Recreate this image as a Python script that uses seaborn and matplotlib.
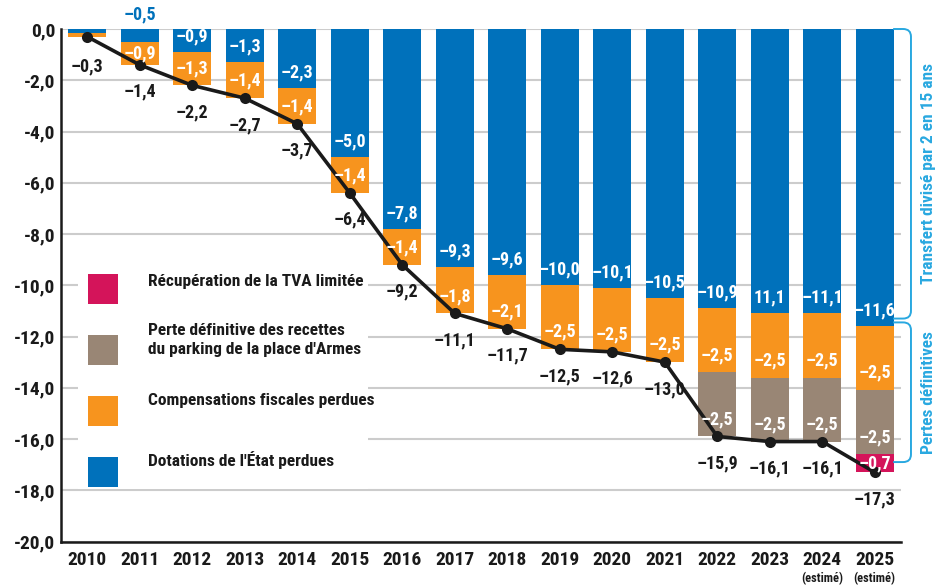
import numpy as np
import pandas as pd
import matplotlib
matplotlib.use("Agg")
import matplotlib.pyplot as plt
from matplotlib import font_manager
from matplotlib.path import Path
from matplotlib.patches import PathPatch, Rectangle
import seaborn as sns

# ---- données (millions d'euros) ----
years = [str(y) for y in range(2010, 2026)]
dotations = [-0.15, -0.5, -0.9, -1.3, -2.3, -5.0, -7.8, -9.3, -9.6, -10.0,
             -10.1, -10.5, -10.9, -11.1, -11.1, -11.6]
compensations = [-0.15, -0.9, -1.3, -1.4, -1.4, -1.4, -1.4, -1.8, -2.1, -2.5,
                 -2.5, -2.5, -2.5, -2.5, -2.5, -2.5]
parking = [0, 0, 0, 0, 0, 0, 0, 0, 0, 0, 0, 0, -2.5, -2.5, -2.5, -2.5]
tva = [0, 0, 0, 0, 0, 0, 0, 0, 0, 0, 0, 0, 0, 0, 0, -0.7]
totals = [-0.3, -1.4, -2.2, -2.7, -3.7, -6.4, -9.2, -11.1, -11.7, -12.5,
          -12.6, -13.0, -15.9, -16.1, -16.1, -17.3]
estimated = ['2024', '2025']

legend_labels = ["Récupération de la TVA limitée",
                 "Perte définitive des recettes\ndu parking de la place d'Armes",
                 "Compensations fiscales perdues",
                 "Dotations de l'État perdues"]

BLUE = '#0071bb'
ORANGE = '#f7941e'
BROWN = '#998675'
PINK = '#d4145a'
CYAN = '#29a8e0'
INK = '#1a1a1a'
GRID = '#cccccc'

sns.set_style("white")
installed = {f.name for f in font_manager.fontManager.ttflist}
family = 'DejaVu Sans'
for cand in ['Liberation Sans Narrow', 'Roboto Condensed', 'Open Sans Condensed']:
    if cand in installed:
        family = cand
        break
plt.rcParams['font.family'] = [family, 'DejaVu Sans']
plt.rcParams['font.weight'] = 'bold'

W, H = 950, 587
fig = plt.figure(figsize=(W / 100, H / 100), dpi=100)
ax = fig.add_axes([61 / W, 1 - 541.5 / H, 840 / W, 512.5 / H])


def fmt(v):
    return ('–' if v < 0 else '') + f"{abs(v):.1f}".replace('.', ',')


# ---- barres empilées : on superpose les cumuls, du plus profond au premier ----
s1 = np.array(dotations)
s2 = s1 + np.array(compensations)
s3 = s2 + np.array(parking)
s4 = s3 + np.array(tva)
layers = [(s4, tva, PINK), (s3, parking, BROWN), (s2, compensations, ORANGE), (s1, dotations, BLUE)]
for cum, seg, col in layers:
    h = np.where(np.array(seg) != 0, cum, np.nan)
    df = pd.DataFrame({'annee': years, 'valeur': h})
    sns.barplot(data=df, x='annee', y='valeur', order=years, color=col, saturation=1,
                width=0.72, linewidth=0, errorbar=None, ax=ax, zorder=2)

# ---- courbe du total ----
pos = np.arange(len(years))
sns.lineplot(x=pos, y=totals, color=INK, lw=2.6, marker='o', markersize=8,
             markeredgewidth=0, ax=ax, zorder=4)

# ---- étiquettes ----
lab = dict(ha='center', va='center', fontsize=13, fontweight='bold', zorder=5)
for i in range(len(years)):
    if i == 0:
        ax.text(i, totals[i] - 1.15, fmt(totals[i]), color=INK, **lab)
        continue
    # dotations
    if i == 1:
        ax.text(i, 0.55, fmt(dotations[i]), color=BLUE, **lab)
    else:
        txt = fmt(dotations[i])
        if i == 13:
            txt = txt.lstrip('–')  # le signe manque sur l'original
        ax.text(i, dotations[i] + 0.62, txt, color='white', **lab)
    # segments inférieurs
    top = dotations[i]
    for seg in (compensations, parking, tva):
        if seg[i] == 0:
            continue
        bottom = top + seg[i]
        y = min(bottom + 0.68, (top + bottom) / 2)
        ax.text(i, y, fmt(seg[i]), color='white', **lab)
        top = bottom
    ax.text(i, totals[i] - 1.05, fmt(totals[i]), color=INK, **lab)

for y in estimated:
    ax.text(years.index(y), -21.45, "(estimé)", ha='center', va='center',
            fontsize=9, color=INK, clip_on=False)

# ---- axes ----
ax.set_xlim(-0.5, 15.5)
ax.set_ylim(-20, 0)
ticks = np.arange(-20, 1, 2)
ax.set_yticks(ticks)
ax.set_yticklabels([f"{t:.1f}".replace('.', ',') for t in ticks])
ax.set_xticks(pos)
ax.set_xticklabels(years)
ax.set_xticks(pos + 0.5, minor=True)
ax.set_xlabel('')
ax.set_ylabel('')
ax.tick_params(axis='y', length=0, pad=4, labelsize=14, labelcolor=INK)
ax.tick_params(axis='x', which='major', length=0, pad=7, labelsize=14, labelcolor=INK)
ax.tick_params(axis='x', which='minor', direction='in', length=9, width=1.5, color=INK)
for t in ax.get_xticklabels() + ax.get_yticklabels():
    t.set_fontweight('bold')
ax.yaxis.grid(True, color=GRID, lw=1.5)
ax.set_axisbelow(True)
for side in ('top', 'right'):
    ax.spines[side].set_visible(False)
for side in ('left', 'bottom'):
    ax.spines[side].set_color(INK)
    ax.spines[side].set_linewidth(1.8)


# ---- accolades à droite ----
def bracket(y0, y1, xl=15.35, xr=15.69, rx=0.15, ry=0.3):
    verts = [(xl, y0), (xr - rx, y0), (xr, y0), (xr, y0 - ry),
             (xr, y1 + ry), (xr, y1), (xr - rx, y1), (xl, y1)]
    codes = [Path.MOVETO, Path.LINETO, Path.CURVE3, Path.CURVE3,
             Path.LINETO, Path.CURVE3, Path.CURVE3, Path.LINETO]
    ax.add_patch(PathPatch(Path(verts, codes), fc='none', ec=CYAN, lw=1.4,
                           clip_on=False, zorder=5))


bracket(0, -11.3)
bracket(-11.45, -16.9)
ax.text(16.02, -5.62, "Transfert divisé par 2 en 15 ans", rotation=90, ha='center',
        va='center', color=CYAN, fontsize=12.5, clip_on=False)
ax.text(16.02, -14.17, "Pertes définitives", rotation=90, ha='center',
        va='center', color=CYAN, fontsize=12.5, clip_on=False)


# ---- légende ----
def fx(x):
    return x / W


def fy(y):
    return 1 - y / H


fig.add_artist(Rectangle((fx(78), fy(489)), fx(290), (489 - 262) / H,
                         transform=fig.transFigure, fc='white', ec='none', zorder=3))
leg_colors = [PINK, BROWN, ORANGE, BLUE]
sq_top = [274, 335, 396, 457]
txt_y = [282, 340, 401, 460]
for c, top, ty, label in zip(leg_colors, sq_top, txt_y, legend_labels):
    fig.add_artist(Rectangle((fx(88), fy(top + 30)), fx(30), 30 / H,
                             transform=fig.transFigure, fc=c, ec='none', zorder=4))
    fig.text(fx(148), fy(ty), label, ha='left', va='center', fontsize=12.5,
             color=INK, linespacing=1.35, zorder=4)

fig.savefig("out.png", dpi=100)
